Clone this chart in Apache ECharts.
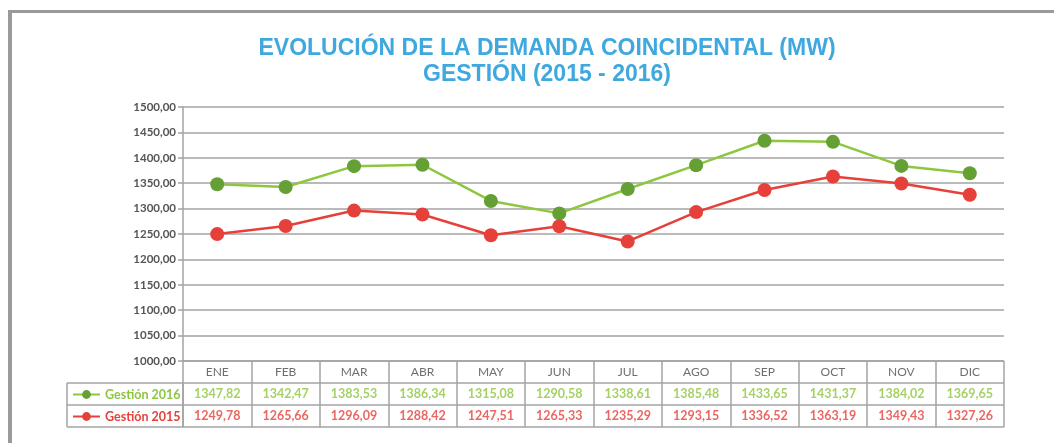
<!DOCTYPE html>
<html lang="es">
<head>
    <meta charset="UTF-8">
    <title>Evolución de la demanda coincidental</title>
    <script src="https://cdn.jsdelivr.net/npm/echarts@6/dist/echarts.min.js"></script>
    <style>
        body{margin:0;background:#fff;}
        #frame{position:absolute;left:8px;top:10px;width:1046px;height:433px;border-left:4px solid #9a9a9c;border-top:3px solid #9a9a9c;box-sizing:border-box;}
        #charts{position:absolute;left:0;top:0;width:1054px;height:443px;}
    </style>
</head>
<body>
    <div id="frame"></div>
    <div id="charts"></div>
    <script type="text/javascript">
        var meses = ['ENE','FEB','MAR','ABR','MAY','JUN','JUL','AGO','SEP','OCT','NOV','DIC'];
        var gestion2016 = [1347.82,1342.47,1383.53,1386.34,1315.08,1290.58,1338.61,1385.48,1433.65,1431.37,1384.02,1369.65];
        var gestion2015 = [1249.78,1265.66,1296.09,1288.42,1247.51,1265.33,1235.29,1293.15,1336.52,1363.19,1349.43,1327.26];
        var filas = ['mes','2016','2015'];

        var verde = '#8dc63f', verdeOsc = '#64a034', rojo = '#e6403a', gris = '#a3a3a3';
        var fuente = 'Lato';

        function fmt(v){ return v.toFixed(2).replace('.', ','); }

        var celdasMes = meses.map(function(m){ return [m,'mes']; });
        var celdas2016 = meses.map(function(m,i){ return [m,'2016',gestion2016[i]]; });
        var celdas2015 = meses.map(function(m,i){ return [m,'2015',gestion2015[i]]; });

        var myChart = echarts.init(document.getElementById('charts'));
        var option = {
            animation:false,
            title:{
                text:'EVOLUCIÓN DE LA DEMANDA COINCIDENTAL (MW)\nGESTIÓN (2015 - 2016)',
                left:542, top:31, textAlign:'center',
                textStyle:{color:'#3ea8df', fontSize:23, fontWeight:'bold', fontFamily:'Liberation Sans', lineHeight:26}
            },
            legend:[
                {data:['Gestión 2016'], left:67, top:383, itemWidth:27, itemHeight:11, itemGap:3,
                 textStyle:{color:verde, fontWeight:'bold', fontSize:12.5, fontFamily:fuente}},
                {data:['Gestión 2015'], left:67, top:405, itemWidth:27, itemHeight:11, itemGap:3,
                 textStyle:{color:rojo, fontWeight:'bold', fontSize:12.5, fontFamily:fuente}}
            ],
            grid:[
                {left:183, right:50, top:107, height:254},
                {left:183, right:50, top:361, height:66},
                {left:67, width:116, top:383, height:44}
            ],
            xAxis:[
                {gridIndex:0, type:'category', data:meses, boundaryGap:true,
                 axisLine:{show:false}, axisTick:{show:false}, axisLabel:{show:false}, splitLine:{show:false}},
                {gridIndex:1, type:'category', data:meses, boundaryGap:true,
                 axisLine:{show:false}, axisTick:{show:false}, axisLabel:{show:false},
                 splitLine:{show:true, lineStyle:{color:gris, width:1.5}}},
                {gridIndex:2, type:'category', data:[''], boundaryGap:true,
                 axisLine:{show:false}, axisTick:{show:false}, axisLabel:{show:false},
                 splitLine:{show:true, lineStyle:{color:gris, width:1.5}}}
            ],
            yAxis:[
                {gridIndex:0, type:'value', min:1000, max:1500, interval:50,
                 axisLine:{show:true, lineStyle:{color:gris, width:1.5}},
                 axisTick:{show:true, length:5, lineStyle:{color:gris, width:1.5}},
                 axisLabel:{formatter:fmt, color:'#555', fontSize:11.5, fontWeight:'bold', fontFamily:fuente, margin:7},
                 splitLine:{lineStyle:{color:gris, width:1.5}}},
                {gridIndex:1, type:'category', data:filas, inverse:true, boundaryGap:true,
                 axisLine:{show:false}, axisTick:{show:false}, axisLabel:{show:false},
                 splitLine:{show:true, lineStyle:{color:gris, width:1.5}}},
                {gridIndex:2, type:'category', data:['a','b'], boundaryGap:true,
                 axisLine:{show:false}, axisTick:{show:false}, axisLabel:{show:false},
                 splitLine:{show:true, lineStyle:{color:gris, width:1.5}}}
            ],
            series:[
                {name:'Gestión 2016', type:'line', xAxisIndex:0, yAxisIndex:0, data:gestion2016,
                 symbol:'circle', symbolSize:14,
                 itemStyle:{color:verdeOsc}, lineStyle:{color:verde, width:2.5}},
                {name:'Gestión 2015', type:'line', xAxisIndex:0, yAxisIndex:0, data:gestion2015,
                 symbol:'circle', symbolSize:14,
                 itemStyle:{color:rojo}, lineStyle:{color:rojo, width:2.5}},
                {name:'meses', type:'scatter', xAxisIndex:1, yAxisIndex:1, data:celdasMes, symbolSize:0,
                 label:{show:true, position:'inside', formatter:function(p){return p.value[0];},
                        color:'#4a4a4a', fontSize:12, fontFamily:fuente}},
                {name:'t2016', type:'scatter', xAxisIndex:1, yAxisIndex:1, data:celdas2016, symbolSize:0,
                 label:{show:true, position:'inside', formatter:function(p){return fmt(p.value[2]);},
                        color:verde, fontSize:12.5, fontWeight:'bold', fontFamily:fuente}},
                {name:'t2015', type:'scatter', xAxisIndex:1, yAxisIndex:1, data:celdas2015, symbolSize:0,
                 label:{show:true, position:'inside', formatter:function(p){return fmt(p.value[2]);},
                        color:rojo, fontSize:12.5, fontWeight:'bold', fontFamily:fuente}}
            ]
        };
        myChart.setOption(option);
    </script>
</body>
</html>
